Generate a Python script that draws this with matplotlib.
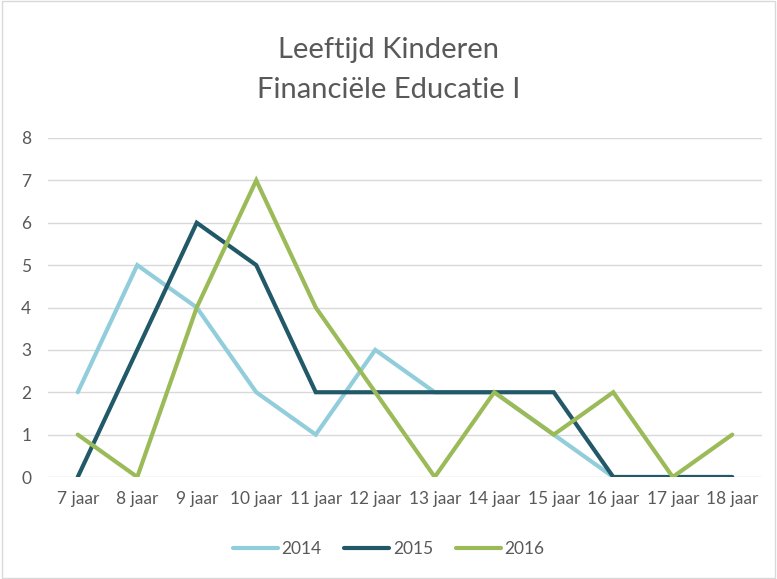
import numpy as np
import matplotlib
matplotlib.use("Agg")
import matplotlib.pyplot as plt
from matplotlib.patches import Rectangle

plt.rcParams["font.family"] = ["Lato", "DejaVu Sans"]

ages = ["7 jaar", "8 jaar", "9 jaar", "10 jaar", "11 jaar", "12 jaar",
        "13 jaar", "14 jaar", "15 jaar", "16 jaar", "17 jaar", "18 jaar"]
y2014 = [2, 5, 4, 2, 1, 3, 2, 2, 1, 0, 0, 0]
y2015 = [0, 3, 6, 5, 2, 2, 2, 2, 2, 0, 0, 0]
y2016 = [1, 0, 4, 7, 4, 2, 0, 2, 1, 2, 0, 1]
series = [("2014", y2014, "#92CDDC"), ("2015", y2015, "#215968"), ("2016", y2016, "#9BBB59")]

fig = plt.figure(figsize=(7.77, 5.79), dpi=100)
ax = fig.add_axes([48 / 777, 1 - 477 / 579, (762 - 48) / 777, (477 - 138) / 579])

x = np.arange(len(ages))
for name, vals, col in series:
    ax.plot(x, vals, color=col, lw=3, label=name, solid_capstyle="round",
            solid_joinstyle="miter")

ax.set_xlim(-0.5, len(ages) - 0.5)
ax.set_ylim(0, 8)
ax.set_yticks(range(0, 9))
ax.set_xticks(x)
ax.set_xticklabels(ages)
ax.grid(axis="y", color="#D9D9D9", lw=1)
ax.set_axisbelow(True)
for s in ax.spines.values():
    s.set_visible(False)
ax.tick_params(length=0, labelsize=12.5, colors="#595959", pad=10)
ax.tick_params(axis="y", pad=12)

fig.text(0.5, 1 - 50 / 579, "Leeftijd Kinderen", ha="center", va="center",
         fontsize=21, color="#595959")
fig.text(0.5, 1 - 90 / 579, "Financiële Educatie I", ha="center", va="center",
         fontsize=21, color="#595959")

fig.legend(loc="center", bbox_to_anchor=(0.5, 1 - 549 / 579), ncol=3, frameon=False,
           fontsize=12.5, labelcolor="#595959", handlelength=2.6, columnspacing=1.3,
           handletextpad=0.2)

fig.patches.append(Rectangle((0.002, 0.002), 0.996, 0.996, transform=fig.transFigure,
                             fill=False, edgecolor="#D9D9D9", lw=1))

fig.savefig("out.png", dpi=100)
